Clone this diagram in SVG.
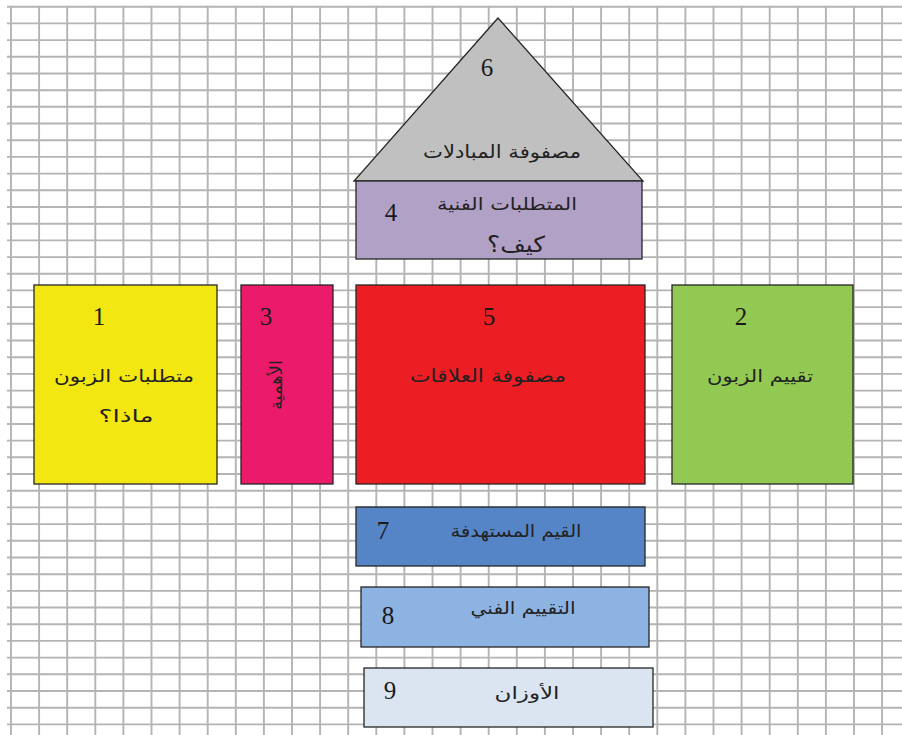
<svg xmlns="http://www.w3.org/2000/svg" width="902" height="735" viewBox="0 0 902 735">
  <style>
    .grid { stroke: #b4b4b4; stroke-width: 1.9; fill: none; }
    .box { stroke: #262626; stroke-width: 1.3; }
    .num { font-family: "Liberation Serif", "Times New Roman", serif; font-size: 25px; fill: #1a1a1a; text-anchor: middle; }
    .ar { font-family: "DejaVu Sans", "Noto Sans", sans-serif; fill: #222; text-anchor: middle; direction: rtl; unicode-bidi: embed; }
  </style>

  <!-- squared paper background -->
  <rect x="0" y="0" width="902" height="735" fill="#ffffff"/>
  <g id="grid" class="grid">
    <path d="M11,7V735M39.1,7V735M67.2,7V735M95.3,7V735M123.4,7V735M151.5,7V735M179.6,7V735M207.7,7V735M235.8,7V735M263.9,7V735M292,7V735M320.1,7V735M348.2,7V735M376.3,7V735M404.4,7V735M432.5,7V735M460.6,7V735M488.7,7V735M516.8,7V735M544.9,7V735M573,7V735M601.1,7V735M629.2,7V735M657.3,7V735M685.4,7V735M713.5,7V735M741.6,7V735M769.7,7V735M797.8,7V735M825.9,7V735M854,7V735M882.1,7V735"/>
    <path d="M7,6.7H902M7,23.4H902M7,40.1H902M7,56.8H902M7,73.5H902M7,90.2H902M7,106.8H902M7,123.5H902M7,140.2H902M7,156.9H902M7,173.6H902M7,190.3H902M7,207H902M7,223.7H902M7,240.4H902M7,257.1H902M7,273.7H902M7,290.4H902M7,307.1H902M7,323.8H902M7,340.5H902M7,357.2H902M7,373.9H902M7,390.6H902M7,407.3H902M7,424H902M7,440.6H902M7,457.3H902M7,474H902M7,490.7H902M7,507.4H902M7,524.1H902M7,540.8H902M7,557.5H902M7,574.2H902M7,590.9H902M7,607.5H902M7,624.2H902M7,640.9H902M7,657.6H902M7,674.3H902M7,691H902M7,707.7H902M7,724.4H902"/>
  </g>

  <!-- roof: trade-off matrix -->
  <g id="node6">
    <path class="box" d="M498,18 L354,181 L643,181 Z" fill="#c0c0c0"/>
    <text class="num" x="487" y="76">6</text>
    <text class="ar" x="502" y="158" style="font-size:18px" textLength="158" lengthAdjust="spacingAndGlyphs">مصفوفة المبادلات</text>
  </g>

  <!-- technical requirements -->
  <g id="node4">
    <rect class="box" x="356" y="181" width="286" height="78" fill="#b2a1c7"/>
    <text class="num" x="391" y="221">4</text>
    <text class="ar" x="507" y="210" style="font-size:17px" textLength="140" lengthAdjust="spacingAndGlyphs">المتطلبات الفنية</text>
    <text class="ar" x="516" y="252" style="font-size:22px" textLength="58" lengthAdjust="spacingAndGlyphs">كيف؟</text>
  </g>

  <!-- customer requirements -->
  <g id="node1">
    <rect class="box" x="34" y="285" width="183" height="199" fill="#f2e711"/>
    <text class="num" x="99" y="325">1</text>
    <text class="ar" x="124" y="382" style="font-size:17px" textLength="140" lengthAdjust="spacingAndGlyphs">متطلبات الزبون</text>
    <text class="ar" x="126" y="422" style="font-size:17px" textLength="55" lengthAdjust="spacingAndGlyphs">ماذا؟</text>
  </g>

  <!-- importance -->
  <g id="node3">
    <rect class="box" x="241" y="285" width="92" height="199" fill="#ec1a6a"/>
    <text class="num" x="266" y="325">3</text>
    <text class="ar" transform="translate(282,385) rotate(-90)" x="0" y="0" style="font-size:17px" textLength="50" lengthAdjust="spacingAndGlyphs">الأهمية</text>
  </g>

  <!-- relationship matrix -->
  <g id="node5">
    <rect class="box" x="356" y="285" width="289" height="199" fill="#ed1d24"/>
    <text class="num" x="489" y="325">5</text>
    <text class="ar" x="488" y="382" style="font-size:18px" textLength="156" lengthAdjust="spacingAndGlyphs">مصفوفة العلاقات</text>
  </g>

  <!-- customer assessment -->
  <g id="node2">
    <rect class="box" x="672" y="285" width="181" height="199" fill="#92c952"/>
    <text class="num" x="741" y="325">2</text>
    <text class="ar" x="760" y="382" style="font-size:17px" textLength="106" lengthAdjust="spacingAndGlyphs">تقييم الزبون</text>
  </g>

  <!-- target values -->
  <g id="node7">
    <rect class="box" x="356" y="507" width="289" height="59" fill="#5585c6"/>
    <text class="num" x="383" y="539">7</text>
    <text class="ar" x="516" y="537" style="font-size:17px" textLength="131" lengthAdjust="spacingAndGlyphs">القيم المستهدفة</text>
  </g>

  <!-- technical assessment -->
  <g id="node8">
    <rect class="box" x="361" y="587" width="288" height="60" fill="#8db3e2"/>
    <text class="num" x="388" y="624">8</text>
    <text class="ar" x="523" y="614" style="font-size:17px" textLength="105" lengthAdjust="spacingAndGlyphs">التقييم الفني</text>
  </g>

  <!-- weights -->
  <g id="node9">
    <rect class="box" x="364" y="668" width="289" height="59" fill="#dbe5f1"/>
    <text class="num" x="390" y="699">9</text>
    <text class="ar" x="527" y="699" style="font-size:17px" textLength="65" lengthAdjust="spacingAndGlyphs">الأوزان</text>
  </g>
</svg>
